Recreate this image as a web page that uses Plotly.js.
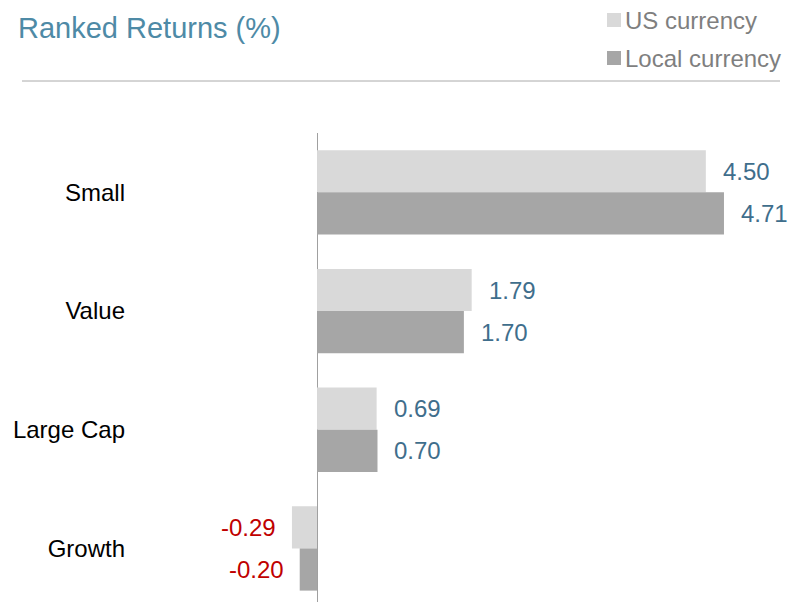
<!DOCTYPE html>
<html>
<head>
<meta charset="utf-8">
<script src="https://cdn.plot.ly/plotly-3.0.1.min.js"></script>
<style>html,body{margin:0;padding:0;background:#fff;}#chart{width:798px;height:602px;}</style>
</head>
<body>
<div id="chart"></div>
<script>
const categories = ["Small", "Value", "Large Cap", "Growth"];
const usCurrency = [4.50, 1.79, 0.69, -0.29];
const localCurrency = [4.71, 1.70, 0.70, -0.20];
const seriesNames = ["US currency", "Local currency"];
const seriesColors = ["#d9d9d9", "#a6a6a6"];

const FONT = "Liberation Sans, Arial, sans-serif";
const POS_COLOR = "#3f6e8c";
const NEG_COLOR = "#c00000";

const traces = [
  {type: "bar", orientation: "h", name: seriesNames[0], y: categories, x: usCurrency,
   marker: {color: seriesColors[0]}, hoverinfo: "skip"},
  {type: "bar", orientation: "h", name: seriesNames[1], y: categories, x: localCurrency,
   marker: {color: seriesColors[1]}, hoverinfo: "skip"}
];

// plot area in pixels: x 134..788, y 133..602
const px = p => (p - 134) / 654;
const py = p => (602 - p) / 469;

const annotations = [];
[[usCurrency, 21], [localCurrency, -21]].forEach(([vals, ys]) => {
  vals.forEach((v, i) => {
    annotations.push({
      xref: "x", yref: "y", x: v, y: categories[i],
      text: v.toFixed(2), showarrow: false,
      xanchor: v >= 0 ? "left" : "right", xshift: v >= 0 ? 15 : -14,
      yanchor: "middle", yshift: ys,
      font: {family: FONT, size: 24, color: v >= 0 ? POS_COLOR : NEG_COLOR}
    });
  });
});

const shapes = [{type: "line", xref: "paper", yref: "paper", x0: px(22), x1: px(780),
                 y0: py(81), y1: py(81), line: {color: "#aaaaaa", width: 1}}];

// legend
const legendRows = [20, 58];
seriesNames.forEach((name, i) => {
  const cy = legendRows[i];
  shapes.push({type: "rect", xref: "paper", yref: "paper",
               x0: px(607), x1: px(621), y0: py(cy - 7), y1: py(cy + 7),
               fillcolor: seriesColors[i], line: {width: 0}});
  annotations.push({xref: "paper", yref: "paper", x: px(623), y: py(cy),
                    xanchor: "left", yanchor: "middle", showarrow: false, text: name,
                    font: {family: FONT, size: 24, color: "#7f7f7f"}});
});

const layout = {
  width: 798, height: 602,
  paper_bgcolor: "#fff", plot_bgcolor: "#fff",
  margin: {l: 134, r: 10, t: 133, b: 0},
  barmode: "group", bargap: 0.29, bargroupgap: 0,
  font: {family: FONT, size: 24, color: "#000"},
  title: {text: "Ranked Returns (%)", x: 18/798, xref: "container", xanchor: "left",
          y: 1 - 28/602, yref: "container", yanchor: "middle",
          font: {family: FONT, size: 29, color: "#4e8aa6"}},
  xaxis: {range: [-2.118, 5.451], showgrid: false, showticklabels: false, ticks: "",
          zeroline: true, zerolinecolor: "#a0a0a0", zerolinewidth: 1, showline: false, fixedrange: true},
  yaxis: {type: "category", range: [3.451, -0.5], showgrid: false, zeroline: false, showline: false,
          ticks: "", ticklabelstandoff: 8, tickfont: {family: FONT, size: 24, color: "#000"}, fixedrange: true},
  showlegend: false,
  shapes: shapes,
  annotations: annotations
};

Plotly.newPlot("chart", traces, layout, {displayModeBar: false, staticPlot: true});
</script>
</body>
</html>
